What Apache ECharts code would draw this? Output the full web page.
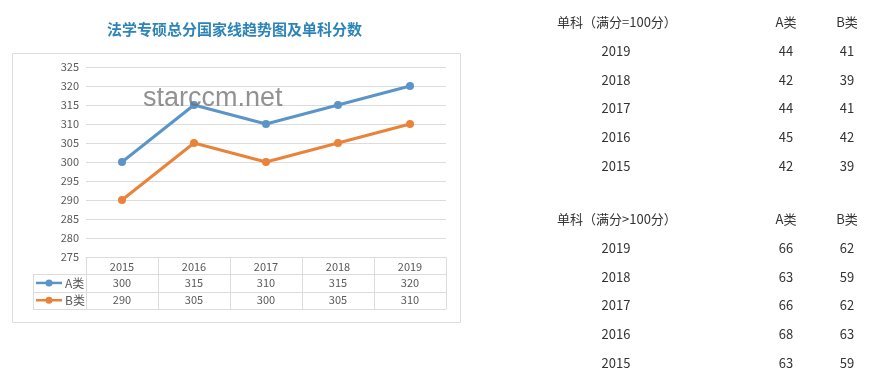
<!DOCTYPE html>
<html>
<head>
<meta charset="utf-8">
<script src="https://cdn.jsdelivr.net/npm/echarts@6/dist/echarts.min.js"></script>
<style>
html,body{margin:0;padding:0;background:#fff;}
#main{width:870px;height:379px;}
</style>
</head>
<body>
<div id="main"></div>
<script>
// ---- data ----
var titleText = '法学专硕总分国家线趋势图及单科分数';
var years = ['2015', '2016', '2017', '2018', '2019'];
var seriesNames = ['A类', 'B类'];
var scoreA = [300, 315, 310, 315, 320];
var scoreB = [290, 305, 300, 305, 310];
var yTicks = { min: 275, max: 325, interval: 5 };

var table1Header = ['单科（满分=100分）', 'A类', 'B类'];
var table2Header = ['单科（满分>100分）', 'A类', 'B类'];
var singleYears = ['2019', '2018', '2017', '2016', '2015'];
var single100A = [44, 42, 44, 45, 42];
var single100B = [41, 39, 41, 42, 39];
var singleOverA = [66, 63, 66, 68, 63];
var singleOverB = [62, 59, 62, 63, 59];
var watermark = 'starccm.net';

// ---- styles ----
var colA = '#5b95c8', colB = '#e9833a';
var gridCol = '#dcdcdc', txtCol = '#595959';
var FONT = '"Noto Sans CJK SC", "Liberation Sans", sans-serif';

var chart = echarts.init(document.getElementById('main'), null, { renderer: 'canvas' });

var gridLeft = 86, gridTop = 67, gridW = 360, gridH = 190;

chart.setOption({
  backgroundColor: '#fff',
  animation: false,
  title: {
    text: titleText, left: 102, top: 17,
    textStyle: { fontSize: 15, fontWeight: 'bold', color: '#2c84b8', fontFamily: FONT }
  },
  grid: { left: gridLeft, top: gridTop, width: gridW, height: gridH },
  xAxis: {
    type: 'category', data: years, boundaryGap: true,
    axisLine: { show: true, lineStyle: { color: gridCol, width: 1 } },
    axisTick: { show: true, length: 52, lineStyle: { color: gridCol } },
    axisLabel: { color: txtCol, fontSize: 11, margin: 4, fontFamily: FONT }
  },
  yAxis: {
    type: 'value', min: yTicks.min, max: yTicks.max, interval: yTicks.interval,
    axisLine: { show: false }, axisTick: { show: false },
    axisLabel: { color: txtCol, fontSize: 11, margin: 7, fontFamily: FONT },
    splitLine: { lineStyle: { color: gridCol } }
  },
  series: [
    { name: seriesNames[0], type: 'line', data: scoreA, symbol: 'circle', symbolSize: 8,
      itemStyle: { color: colA }, lineStyle: { color: colA, width: 3 }, z: 3 },
    { name: seriesNames[1], type: 'line', data: scoreB, symbol: 'circle', symbolSize: 8,
      itemStyle: { color: colB }, lineStyle: { color: colB, width: 3 }, z: 3 }
  ]
});

// ---- build graphic (tables, frame, watermark) ----
var g = [];
// outer frame
g.push({ type: 'rect', z: -10, shape: { x: 12.5, y: 53.5, width: 448, height: 269 },
  style: { fill: '#fff', stroke: gridCol, lineWidth: 1 } });

var rowH = 17.3;
var tTop = gridTop + gridH;           // 257
var r1 = tTop + rowH, r2 = r1 + rowH, r3 = r2 + rowH;
var legL = 33, right = gridLeft + gridW;
[r1, r2, r3].forEach(function (yy) {
  g.push({ type: 'line', shape: { x1: legL, y1: Math.round(yy) + 0.5, x2: right, y2: Math.round(yy) + 0.5 },
    style: { stroke: gridCol, lineWidth: 1 } });
});
g.push({ type: 'line', shape: { x1: legL + 0.5, y1: r1, x2: legL + 0.5, y2: r3 }, style: { stroke: gridCol, lineWidth: 1 } });

var rows = [scoreA, scoreB], cols = [colA, colB];
rows.forEach(function (arr, ri) {
  var cy = r1 + rowH * ri + rowH / 2;
  arr.forEach(function (v, i) {
    var px = chart.convertToPixel({ xAxisIndex: 0 }, years[i]);
    g.push({ type: 'text', style: { x: px, y: cy, text: String(v), fill: txtCol,
      font: '11px ' + FONT, textAlign: 'center', textVerticalAlign: 'middle' } });
  });
  g.push({ type: 'line', shape: { x1: 36, y1: cy, x2: 62, y2: cy }, style: { stroke: cols[ri], lineWidth: 2.5 } });
  g.push({ type: 'circle', shape: { cx: 49, cy: cy, r: 3.5 }, style: { fill: cols[ri] } });
  g.push({ type: 'text', style: { x: 65, y: cy, text: seriesNames[ri], fill: txtCol,
    font: '12px ' + FONT, textAlign: 'left', textVerticalAlign: 'middle' } });
});

// watermark
g.push({ type: 'text', z: 100, style: { x: 143, y: 99, text: watermark, fill: 'rgba(110,110,110,0.75)',
  font: '27px "Liberation Sans", Arial, sans-serif', textAlign: 'left', textVerticalAlign: 'middle' } });

// right-hand tables
function addTable(header, a, b, y0) {
  var step = 28.8;
  var tfont = '13px ' + FONT, fill = '#333';
  g.push({ type: 'text', style: { x: 557, y: y0, text: header[0], fill: fill, font: tfont, textVerticalAlign: 'middle' } });
  g.push({ type: 'text', style: { x: 786, y: y0, text: header[1], fill: fill, font: tfont, textAlign: 'center', textVerticalAlign: 'middle' } });
  g.push({ type: 'text', style: { x: 847, y: y0, text: header[2], fill: fill, font: tfont, textAlign: 'center', textVerticalAlign: 'middle' } });
  singleYears.forEach(function (yr, i) {
    var yy = y0 + step * (i + 1);
    g.push({ type: 'text', style: { x: 616, y: yy, text: yr, fill: fill, font: tfont, textAlign: 'center', textVerticalAlign: 'middle' } });
    g.push({ type: 'text', style: { x: 786, y: yy, text: String(a[i]), fill: fill, font: tfont, textAlign: 'center', textVerticalAlign: 'middle' } });
    g.push({ type: 'text', style: { x: 847, y: yy, text: String(b[i]), fill: fill, font: tfont, textAlign: 'center', textVerticalAlign: 'middle' } });
  });
}
addTable(table1Header, single100A, single100B, 22);
addTable(table2Header, singleOverA, singleOverB, 219);

chart.setOption({ graphic: g });
</script>
</body>
</html>
